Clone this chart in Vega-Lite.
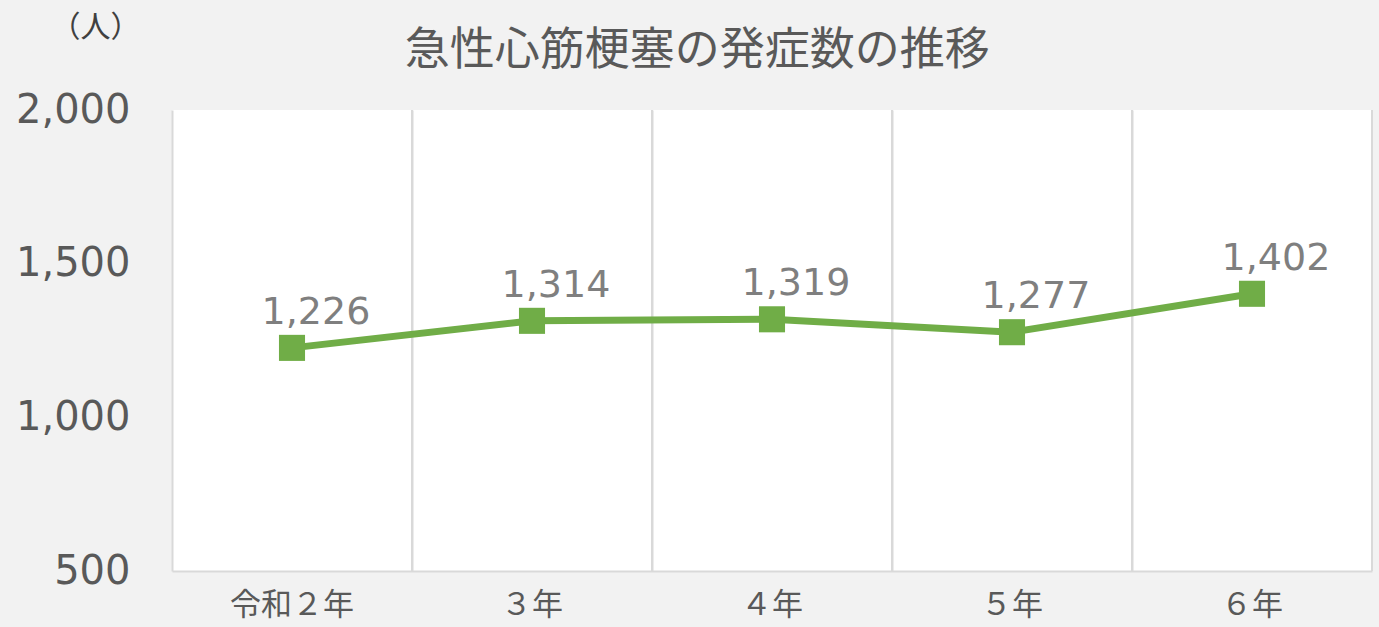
{
  "$schema": "https://vega.github.io/schema/vega-lite/v6.json",
  "width": 1200,
  "height": 461,
  "autosize": {"type": "none"},
  "padding": {"left": 172, "top": 110, "right": 7, "bottom": 56},
  "background": "#f2f2f2",
  "config": {
    "font": "DejaVu Sans, Noto Sans CJK JP",
    "view": {"fill": "#ffffff", "stroke": null}
  },
  "title": {
    "text": "急性心筋梗塞の発症数の推移",
    "fontSize": 45,
    "fontWeight": "normal",
    "color": "#595959",
    "anchor": "middle",
    "frame": "bounds",
    "dx": 3,
    "offset": -62,
    "font": "Noto Sans CJK JP"
  },
  "data": {
    "values": [
      {"year": "令和２年", "count": 1226},
      {"year": "３年", "count": 1314},
      {"year": "４年", "count": 1319},
      {"year": "５年", "count": 1277},
      {"year": "６年", "count": 1402}
    ]
  },
  "encoding": {
    "x": {
      "field": "year",
      "type": "ordinal",
      "sort": null,
      "scale": {"paddingInner": 0, "paddingOuter": 0},
      "axis": {
        "title": null,
        "labelAngle": 0,
        "labelFont": "Noto Sans CJK JP",
        "labelFontSize": 31,
        "labelColor": "#595959",
        "labelPadding": 19,
        "ticks": false,
        "domainColor": "#d9d9d9",
        "domainWidth": 2,
        "grid": true,
        "gridColor": "#d9d9d9",
        "gridWidth": 2,
        "bandPosition": 0
      }
    },
    "y": {
      "field": "count",
      "type": "quantitative",
      "scale": {"domain": [500, 2000]},
      "axis": {
        "values": [500, 1000, 1500, 2000],
        "format": ",.0f",
        "grid": false,
        "domain": false,
        "ticks": false,
        "labelFontSize": 40,
        "labelColor": "#595959",
        "labelPadding": 42,
        "title": "（人）",
        "titleFont": "Noto Sans CJK JP",
        "titleAngle": 0,
        "titleFontSize": 30,
        "titleFontWeight": "normal",
        "titleColor": "#404040",
        "titleAlign": "center",
        "titleBaseline": "middle",
        "titleX": -77,
        "titleY": -83
      }
    }
  },
  "layer": [
    {
      "mark": {"type": "rule", "color": "#d9d9d9", "strokeWidth": 2},
      "encoding": {
        "x": {"field": "year", "type": "ordinal", "sort": null, "bandPosition": 1},
        "y": {"value": 0},
        "y2": {"value": 461}
      }
    },
    {
      "mark": {"type": "line", "color": "#70ad47", "strokeWidth": 7}
    },
    {
      "mark": {"type": "point", "shape": "square", "filled": true, "opacity": 1, "color": "#70ad47", "size": 680}
    },
    {
      "mark": {"type": "text", "fontSize": 38, "color": "#7f7f7f", "align": "center", "baseline": "middle", "dx": 24, "dy": -35},
      "encoding": {"text": {"field": "count", "type": "quantitative", "format": ","}}
    }
  ]
}
